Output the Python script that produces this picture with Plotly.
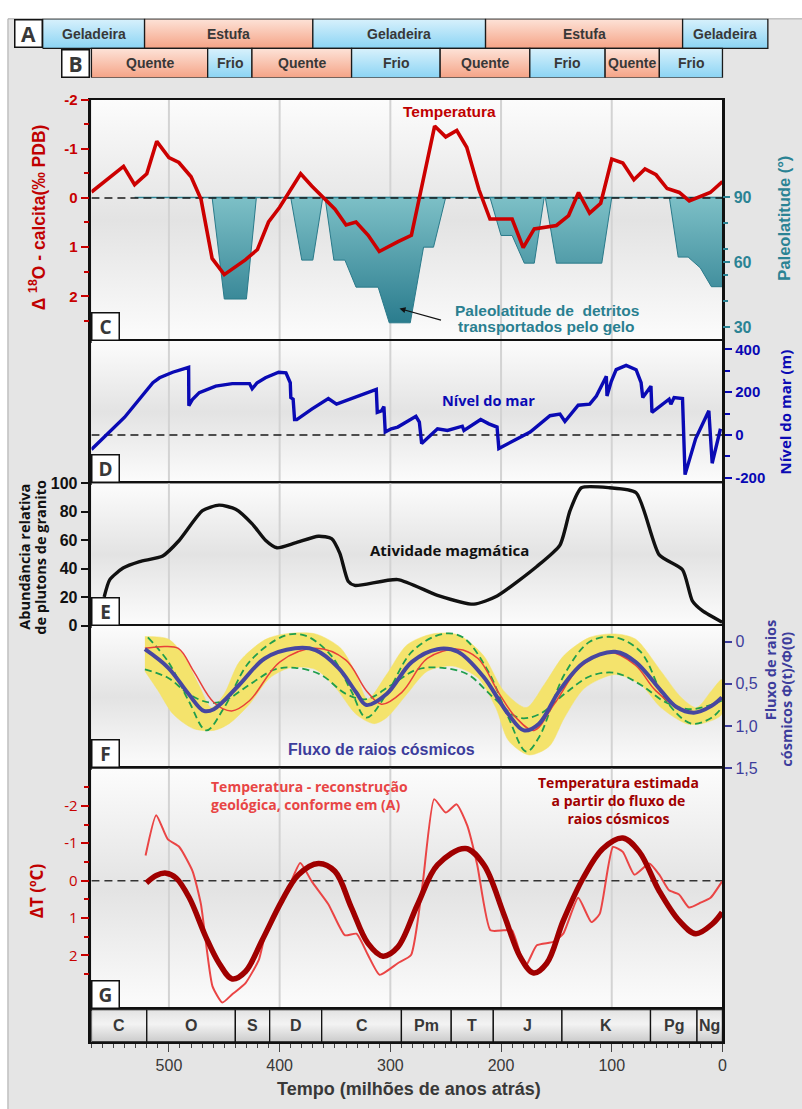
import plotly.graph_objects as go

# ---------------------------------------------------------------- data
# climate-mode bars (million years ago)
era_a_edges = [614, 522, 370, 214, 36, -41]
era_a_names = ["Geladeira", "Estufa", "Geladeira", "Estufa", "Geladeira"]
era_b_edges = [570, 465, 425, 335, 255, 174, 106, 57, 0]
era_b_names = ["Quente", "Frio", "Quente", "Frio", "Quente", "Frio", "Quente", "Frio"]

# geological periods
period_edges = [570, 520, 440, 409, 362, 290, 245, 207, 145, 65, 23, 0]
period_names = ["C", "O", "S", "D", "C", "Pm", "T", "J", "K", "Pg", "Ng"]

# C: delta 18O of calcite (temperature proxy)
d18o_age = [570, 541, 531, 520, 511, 500, 491, 480, 471, 461, 450, 431, 420, 410, 400,
            381, 371, 361, 350, 340, 331, 320, 310, 293, 281, 260, 250, 240, 231, 220,
            210, 190, 180, 170, 150, 139, 130, 120, 110, 100, 90, 80, 70, 60, 50, 39,
            30, 11, 0]
d18o_val = [-0.12, -0.64, -0.27, -0.49, -1.15, -0.82, -0.72, -0.43, 0.03, 1.23, 1.56,
            1.26, 1.05, 0.49, 0.19, -0.49, -0.24, -0.02, 0.23, 0.55, 0.49, 0.76, 1.09,
            0.89, 0.76, -1.46, -1.24, -1.37, -1.03, -0.17, 0.43, 0.43, 1.01, 0.63, 0.56,
            0.36, -0.11, 0.31, 0.11, -0.79, -0.71, -0.37, -0.59, -0.47, -0.19, -0.11,
            0.06, -0.11, -0.33]

# C: paleolatitude reached by ice-rafted debris (episodes separated by None)
ird_age = [461, 450, 430, 421, None,
           390, 380, 370, 361, None,
           359, 351, 341, 331, 311, 301, 282, 270, 261, 250, None,
           210, 200, 190, 179, 170, 161, None,
           160, 150, 109, 100, None,
           48, 40, 31, 20, 10, 0, 0]
ird_lat = [90, 43, 43, 90, None,
           90, 61, 61, 90, None,
           90, 61, 61, 48.5, 48.5, 32, 32, 67, 67, 90, None,
           90, 72.4, 72.4, 59.6, 59.6, 90, None,
           90, 59.6, 59.6, 90, None,
           90, 62.4, 62.4, 57.4, 48.7, 48.7, 90]
ird_start_age = 531

# D: sea level (m)
sea_age = [570, 550.4, 540, 514.5, 508.5, 496.6, 482.2, 482.0, 478.6, 472.6, 457.7,
           442.8, 427.2, 424.8, 420.3, 412.8, 400.9, 394.3, 390.4, 389.9, 387.8, 386.5,
           384.5, 371, 356, 348.6, 329, 312.7, 311.8, 308, 305.8, 304.6, 299.2, 293.3,
           276.9, 273.8, 271.7, 257.4, 248.4, 235, 233.5, 218.4, 211, 203.6, 202, 173.7,
           155.8, 146.8, 142.3, 130.3, 119.9, 113.9, 104.9, 104.3, 100.4, 96, 87, 78,
           73.5, 72, 64.6, 63.7, 48.2, 46.6, 43.7, 36.1, 33.8, 24.2, 12.3, 9.3, 1.8]
sea_level = [-68, 29, 83, 244, 267, 293, 316, 137, 167, 198, 228, 240, 240, 216, 244,
             267, 293, 290, 244, 175, 167, 72, 72, 121, 170, 144, 182, 213, 106, 113,
             133, 14, 29, 37, 87, 60, -40, 29, 21, 41, 21, 72, 52, 37, -63, 14, 90, 98,
             63, 139, 144, 182, 274, 182, 251, 305, 325, 305, 244, 175, 228, 106, 167,
             144, 175, 170, -185, -17, 113, -132, 29]

# E: relative abundance of granite plutons
magma_age = [558.5, 553.4, 541.4, 526.5, 505.6, 490.6, 469.7, 454.7, 439.7, 424.8,
             412.8, 402.4, 385.9, 365, 353.1, 345.6, 338.1, 332.1, 293.3, 257.4, 224.5,
             203.6, 167.7, 146.8, 137.7, 127.4, 102, 78, 57.1, 36.1, 27.2, 18.2, 0.3]
magma_abund = [20.2, 32.4, 40.5, 45, 49, 60, 80.7, 84.6, 81.8, 71.5, 60, 54.7, 58.1,
               62.8, 61.2, 50.8, 31.3, 28.3, 32.4, 21.4, 15.2, 20.9, 41.6, 56.6, 80.7,
               96.8, 96.8, 93.3, 49.7, 39.3, 17.5, 10.6, 2.5]

# F: cosmic ray flux Phi(t)/Phi(0)
flux_age = [521.7, 500.6, 482.2, 468.5, 459.4, 436.4, 413.5, 386, 367.6, 346.9, 330.9,
            321.7, 303.4, 280.5, 257.5, 239.1, 216.2, 193.3, 179.4, 165.7, 147.3, 124.4,
            97, 78.6, 55.6, 41.9, 25.8, 9.8, 0.6]
flux_val = [0.09, 0.31, 0.62, 0.82, 0.80, 0.51, 0.20, 0.08, 0.10, 0.31, 0.60, 0.75, 0.62,
            0.24, 0.09, 0.12, 0.41, 0.86, 1.05, 0.97, 0.58, 0.24, 0.12, 0.24, 0.58, 0.77,
            0.84, 0.76, 0.66]
flux_alt_age = [521.7, 507.6, 491.5, 477.7, 459.4, 443.3, 427.3, 399.7, 367.6, 340.1,
                321.7, 308, 289.6, 266.6, 239.1, 220.8, 202.4, 186.4, 170.3, 152, 129.1,
                101.5, 78.6, 60.3, 37.3, 18.9, 0.6]
flux_alt_val = [0.08, 0.06, 0.08, 0.35, 0.72, 0.82, 0.70, 0.24, 0.08, 0.22, 0.58, 0.74,
                0.60, 0.20, 0.09, 0.20, 0.60, 0.90, 1.05, 0.74, 0.31, 0.13, 0.28, 0.58,
                0.80, 0.82, 0.66]
flux_wide_age = [519, 500.6, 482.2, 466.2, 450.1, 427.3, 395.2, 376.8, 353.8, 335.5,
                 321.7, 303.4, 280.5, 252.9, 234.5, 211.7, 193.3, 177.2, 165.7, 142.8,
                 119.6, 97, 74, 51, 28.1, 9.8, 0.6]
flux_wide_val = [-0.05, 0.24, 0.70, 1.05, 0.78, 0.24, -0.07, -0.07, 0.16, 0.58, 0.90,
                 0.62, 0.12, -0.09, -0.05, 0.35, 0.90, 1.30, 1.13, 0.39, 0.00, -0.05,
                 0.12, 0.70, 0.97, 0.90, 0.78]
flux_narrow_age = [521.7, 500.6, 482.2, 464, 450, 427.3, 404.3, 386, 363, 340, 321.7,
                   298.7, 275.8, 252.9, 229.9, 207, 184.1, 165.7, 142.8, 119.6, 97, 74,
                   51, 28.1, 0.6]
flux_narrow_val = [0.33, 0.43, 0.62, 0.72, 0.70, 0.51, 0.33, 0.31, 0.39, 0.62, 0.68,
                   0.51, 0.33, 0.31, 0.39, 0.66, 0.90, 0.86, 0.62, 0.41, 0.37, 0.51,
                   0.72, 0.80, 0.70]
band_top_age = [521.7, 500.6, 486.9, 473.1, 461.6, 450.1, 436.4, 413.5, 395.2, 367.6,
                344.7, 330.9, 320.5, 303.4, 285, 262.1, 239.1, 216.2, 197.8, 177.2,
                161.1, 142.8, 119.8, 97, 78.6, 55.6, 37.3, 23.5, 9.8, 0.6]
band_top_val = [-0.06, -0.03, 0.16, 0.51, 0.78, 0.62, 0.24, -0.02, -0.09, -0.09, 0.08,
                0.39, 0.68, 0.39, 0.04, -0.09, -0.08, 0.16, 0.58, 0.78, 0.51, 0.16,
                -0.05, -0.09, -0.03, 0.35, 0.66, 0.78, 0.58, 0.45]
band_bot_age = [521.7, 509.8, 496, 477.7, 459.4, 445.6, 427.3, 408.9, 390.5, 367.6,
                349.2, 330.9, 314.8, 303.4, 285, 266.6, 243.8, 220.8, 204.8, 193.3,
                174.9, 156.6, 142.8, 124.5, 97, 74, 55.6, 32.7, 18.9, 0.6]
band_bot_val = [0.35, 0.58, 0.86, 1.03, 1.05, 0.97, 0.74, 0.43, 0.31, 0.33, 0.55, 0.86,
                0.97, 0.90, 0.62, 0.35, 0.29, 0.43, 0.78, 1.17, 1.34, 1.24, 0.90, 0.55,
                0.39, 0.51, 0.78, 0.97, 0.97, 0.86]

# G: temperature anomaly (deg C)
dt_cosmic_age = [520.4, 511.5, 502.5, 493.5, 481.6, 466.6, 454.7, 442.8, 430.8, 415.9,
                 398, 383, 365, 350.1, 335.2, 320.2, 306.7, 293.3, 275.3, 257.4, 232,
                 215.5, 197.6, 182.7, 170.7, 158.7, 143.8, 125.8, 107.9, 90, 75.1, 57.1,
                 39.2, 24.2, 9.2, 0.3]
dt_cosmic = [0.06, -0.14, -0.20, -0.07, 0.46, 1.51, 2.21, 2.63, 2.43, 1.60, 0.54, -0.16,
             -0.46, -0.25, 0.72, 1.68, 2.02, 1.78, 0.63, -0.42, -0.86, -0.42, 0.89, 2.04,
             2.47, 2.21, 1.07, -0.07, -0.86, -1.14, -0.77, 0.28, 1.07, 1.42, 1.16, 0.85]
dt_geo_age = [521.1, 511.5, 501.1, 490.6, 478.6, 471.1, 460.7, 451.7, 442.8, 430.8,
              418.8, 412.8, 400.9, 391.9, 381.4, 371, 356, 341.1, 330.6, 320.2, 309.7,
              293.3, 281.3, 270.9, 260.4, 250, 240.1, 230.5, 221.5, 209.6, 197.6, 190.1,
              178.2, 167.7, 152.7, 143.8, 130.3, 118.4, 110.9, 98.9, 90, 79.5, 66.1,
              57.1, 48.2, 39.2, 30.2, 19.7, 10.8, 0.3]
dt_geo = [-0.67, -1.75, -1.11, -0.90, -0.25, 0.63, 2.82, 3.26, 3.04, 2.74, 2.12, 1.42,
          0.72, 0.19, -0.47, 0.02, 0.63, 1.46, 1.42, 1.99, 2.52, 2.21, 1.99, 0.11, -2.18,
          -1.82, -2.04, -1.47, -0.42, 1.33, 1.33, 1.33, 2.30, 1.73, 1.64, 1.42, 0.46,
          1.11, 0.89, -0.90, -0.77, -0.16, -0.46, -0.16, 0.26, 0.37, 0.72, 0.59, 0.46,
          0.02]

age_ticks = [500, 400, 300, 200, 100, 0]
grid_ages = [500, 400, 300, 200, 100]

# ---------------------------------------------------------------- layout helpers
W, H = 802, 1109
PX_L, PX_R = 92, 727
T_OLD, T_NOW = 570, 0


def px(x):
    return x / W


def py(y):
    return 1 - y / H


def age_at(xpix):
    return T_OLD - (xpix - PX_L) * (T_OLD - T_NOW) / (PX_R - PX_L)


ARIAL = "Liberation Sans, Arial, sans-serif"
NARROW = "Liberation Sans Narrow, Arial Narrow, Liberation Sans, sans-serif"
HUMAN = "Open Sans, Noto Sans, sans-serif"
RED = "#c80000"
TEAL = "#2b8394"
BLUE = "#0808b4"
SLATE = "#3d3d9c"
DARK = "#383838"

PANELS = {
    "C": dict(top=92, bottom=337, xa="x", ya="y", yr=[2.9, -2.0]),
    "D": dict(top=337, bottom=482, xa="x2", ya="y3", yr=[-225, 441]),
    "E": dict(top=482, bottom=627, xa="x3", ya="y4", yr=[0, 100]),
    "F": dict(top=627, bottom=772, xa="x4", ya="y5", yr=[1.5, -0.186]),
    "G": dict(top=772, bottom=1017, xa="x5", ya="y6", yr=[3.447, -3.0]),
}

fig = go.Figure()


def add(**kw):
    kw.setdefault("hoverinfo", "skip")
    kw.setdefault("showlegend", False)
    fig.add_trace(go.Scatter(**kw))


def gradient_rect(xa, ya, a0, a1, y0, y1, scale, line_color=None, line_width=0):
    add(x=[a0, a1, a1, a0, a0], y=[y0, y0, y1, y1, y0], xaxis=xa, yaxis=ya,
        mode="lines", fill="toself",
        fillgradient=dict(type="vertical", colorscale=scale),
        line=dict(color=line_color or "rgba(0,0,0,0)", width=line_width))


# panel backgrounds and vertical grid
bg_scale = [[0, "#fcfcfc"], [0.5, "#e3e3e3"], [1, "#fcfcfc"]]
for p in PANELS.values():
    lo, hi = min(p["yr"]), max(p["yr"])
    gradient_rect(p["xa"], p["ya"], T_OLD, T_NOW, lo, hi, bg_scale)
    gx, gy = [], []
    for g in grid_ages:
        gx += [g, g, None]
        gy += [lo, hi, None]
    add(x=gx, y=gy, xaxis=p["xa"], yaxis=p["ya"], mode="lines",
        line=dict(color="#d3d3d3", width=2))

# ---- panel C (debris fill on the latitude axis, curves on a top overlay)
teal_scale = [[0, "#287a8c"], [1, "#7cbfc6"]]
poly_a, poly_l = [], []
for a, l in zip(ird_age + [None], ird_lat + [None]):
    if a is None:
        if poly_a:
            add(x=poly_a + [poly_a[0]], y=poly_l + [poly_l[0]], xaxis="x", yaxis="y2",
                mode="lines", fill="toself",
                fillgradient=dict(type="vertical", colorscale=teal_scale, start=32, stop=90),
                line=dict(color="#2a7a8a", width=1))
        poly_a, poly_l = [], []
    else:
        poly_a.append(a)
        poly_l.append(l)
add(x=[ird_start_age, T_NOW], y=[90, 90], xaxis="x", yaxis="y2", mode="lines",
    line=dict(color=TEAL, width=1.6))
add(x=[T_OLD, T_NOW], y=[0, 0], xaxis="x", yaxis="y9", mode="lines",
    line=dict(color="#1a1a1a", width=1.5, dash="8px,5px"))
add(x=d18o_age, y=d18o_val, xaxis="x", yaxis="y9", mode="lines",
    line=dict(color="#cc0000", width=3.6))

# ---- panel D
add(x=[T_OLD, T_NOW], y=[0, 0], xaxis="x2", yaxis="y3", mode="lines",
    line=dict(color="#1a1a1a", width=1.5, dash="8px,5px"))
add(x=sea_age, y=sea_level, xaxis="x2", yaxis="y3", mode="lines",
    line=dict(color="#0a0ab4", width=3.4))

# ---- panel E
add(x=magma_age, y=magma_abund, xaxis="x3", yaxis="y4", mode="lines",
    line=dict(color="#111111", width=3.4, shape="spline", smoothing=0.6))

# ---- panel F
add(x=band_top_age + band_bot_age[::-1], y=band_top_val + band_bot_val[::-1],
    xaxis="x4", yaxis="y5", mode="lines", fill="toself", fillcolor="#f4e36c",
    line=dict(color="#f4e36c", width=0.5, shape="spline", smoothing=0.8))
add(x=flux_narrow_age, y=flux_narrow_val, xaxis="x4", yaxis="y5", mode="lines",
    line=dict(color="#1f9e4d", width=1.8, dash="7px,4px", shape="spline", smoothing=1))
add(x=flux_wide_age, y=flux_wide_val, xaxis="x4", yaxis="y5", mode="lines",
    line=dict(color="#1f9e4d", width=1.8, dash="7px,4px", shape="spline", smoothing=1))
add(x=flux_alt_age, y=flux_alt_val, xaxis="x4", yaxis="y5", mode="lines",
    line=dict(color="#e8403a", width=1.5, shape="spline", smoothing=1))
add(x=flux_age, y=flux_val, xaxis="x4", yaxis="y5", mode="lines",
    line=dict(color="#4747a0", width=4, shape="spline", smoothing=1))

# ---- panel G
add(x=[T_OLD, T_NOW], y=[0, 0], xaxis="x5", yaxis="y6", mode="lines",
    line=dict(color="#333333", width=1.5, dash="8px,5px"))
add(x=dt_geo_age, y=dt_geo, xaxis="x5", yaxis="y6", mode="lines",
    line=dict(color="#ea4545", width=2, shape="spline", smoothing=0.5))
add(x=dt_cosmic_age, y=dt_cosmic, xaxis="x5", yaxis="y6", mode="lines",
    line=dict(color="#a00000", width=5.5, shape="spline", smoothing=1))

# ---- period bar
period_scale = [[0, "#cbcbcb"], [0.55, "#f3f3f3"], [1, "#e2e2e2"]]
annotations = []
for a0, a1, name in zip(period_edges[:-1], period_edges[1:], period_names):
    gradient_rect("x6", "y7", a0, a1, 0, 1, period_scale, "#111111", 1.3)
    annotations.append(dict(x=(a0 + a1) / 2, y=0.5, xref="x6", yref="y7", showarrow=False,
                            text=f"<b>{name}</b>",
                            font=dict(family=NARROW, size=16, color=DARK)))

# ---- climate-mode bars A / B
cold_scale = [[0, "#8bd4f4"], [1, "#d8f1fc"]]
warm_scale = [[0, "#f5a386"], [1, "#fde3d8"]]
for edges, names, row in ((era_a_edges, era_a_names, 1), (era_b_edges, era_b_names, 0)):
    for a0, a1, name in zip(edges[:-1], edges[1:], names):
        cold = name in ("Geladeira", "Frio")
        gradient_rect("x7", "y8", a0, a1, row, row + 1, cold_scale if cold else warm_scale,
                      "#1a1a1a", 1.3)
        annotations.append(dict(x=(a0 + a1) / 2, y=row + 0.5, xref="x7", yref="y8",
                                showarrow=False, text=f"<b>{name}</b>",
                                font=dict(family=NARROW, size=14, color=DARK)))

# letter boxes
for letter, x0, y1 in (("A", 14, 40), ("B", 61, 70)):
    annotations.append(dict(x=px(x0), y=py(y1), xref="paper", yref="paper",
                            xanchor="left", yanchor="bottom", showarrow=False,
                            text=f"<b>{letter}</b>", width=26, height=26, borderpad=0,
                            bgcolor="white", bordercolor="#111111", borderwidth=1.5,
                            font=dict(family=HUMAN, size=21, color=DARK)))
for letter, p in PANELS.items():
    annotations.append(dict(x=px(PX_L), y=py(p["bottom"]), xref="paper", yref="paper",
                            xanchor="left", yanchor="bottom", showarrow=False,
                            text=f"<b>{letter}</b>", width=26, height=26, borderpad=0,
                            bgcolor="white", bordercolor="#111111", borderwidth=1.5,
                            font=dict(family=HUMAN, size=19, color=DARK)))


def label(text, x, y, size, color, family, angle=0, xanchor="center", align="center"):
    annotations.append(dict(x=px(x), y=py(y), xref="paper", yref="paper",
                            xanchor=xanchor, yanchor="middle", showarrow=False,
                            textangle=angle, text=f"<b>{text}</b>", align=align,
                            font=dict(family=family, size=size, color=color)))


# in-panel labels
label("Temperatura", 452, 104, 15.5, "#c00000", ARIAL)
label("Paleolatitude de&nbsp; detritos", 550, 306, 15.5, "#2a7f90", ARIAL)
label("transportados pelo gelo", 550, 323, 15.5, "#2a7f90", ARIAL)
label("Nível do mar", 492, 398, 14.5, "#0a0ab4", HUMAN)
label("Atividade magmática", 452, 550, 15, "#111111", HUMAN)
label("Fluxo de raios cósmicos", 384, 753, 16, SLATE, NARROW)
label("Temperatura - reconstrução<br>geológica, conforme em (A)", 210, 799, 14,
      "#e84545", HUMAN, xanchor="left", align="left")
label("Temperatura estimada<br>a partir do fluxo de<br>raios cósmicos", 622, 805, 14,
      "#a00000", HUMAN)

# axis titles
label("Δ <sup>18</sup>O - calcita(‰ PDB)", 37, 212, 17.5, "#c00000", ARIAL, -90)
label("Paleolatitude (°)", 788, 213, 16.5, TEAL, ARIAL, -90)
label("Nível do mar (m)", 790, 410, 15, "#0a0ab4", HUMAN, -90)
label("Abundância relativa", 25, 557, 14.5, "#111111", HUMAN, -90)
label("de plutons de granito", 41, 557, 14.5, "#111111", HUMAN, -90)
label("Fluxo de raios", 775, 672, 14.5, SLATE, HUMAN, -90)
label("cósmicos Φ(t)/Φ(0)", 792, 702, 14.5, SLATE, HUMAN, -90)
label("ΔT (ºC)", 37, 896, 17, "#c00000", HUMAN, -90)
label("Tempo (milhões de anos atrás)", 412, 1098, 18, DARK, NARROW)

# arrow to the southernmost debris
annotations.append(dict(x=age_at(402), y=38.6, xref="x", yref="y2", ax=43, ay=12,
                        showarrow=True, arrowhead=2, arrowsize=1, arrowwidth=1.2,
                        arrowcolor="#111111", text=""))

# ---------------------------------------------------------------- axes
def xaxis(anchor, **kw):
    d = dict(domain=[px(PX_L), px(PX_R)], range=[T_OLD, T_NOW], anchor=anchor,
             showgrid=False, zeroline=False, showline=True, linecolor="#111111",
             linewidth=2, mirror=True, ticks="", showticklabels=False, fixedrange=True)
    d.update(kw)
    return d


def yaxis(top, bottom, rng, anchor, side, color, vals, text, font, minor=None, **kw):
    d = dict(domain=[py(bottom), py(top)], range=rng, anchor=anchor, side=side,
             showgrid=False, zeroline=False, showline=True, linecolor="#111111",
             linewidth=2.5, mirror=True, ticks="outside", ticklen=8, tickwidth=1.5,
             tickcolor=color, tickmode="array", tickvals=vals, ticktext=text,
             tickfont=font, fixedrange=True)
    if minor is not None:
        d["minor"] = dict(tickmode="array", tickvals=minor, ticks="outside", ticklen=5,
                          tickwidth=1.5, tickcolor=color)
    d.update(kw)
    return d


c_vals = [-2, -1, 0, 1, 2]
layout_axes = dict(
    xaxis=xaxis("y"),
    xaxis2=xaxis("y3"),
    xaxis3=xaxis("y4"),
    xaxis4=xaxis("y5"),
    xaxis5=xaxis("y6"),
    xaxis6=xaxis("y7", ticks="outside", ticklen=8, tickwidth=1.3, tickcolor="#444444",
                 showticklabels=True, tickmode="array", tickvals=age_ticks,
                 ticktext=[str(v) for v in age_ticks],
                 tickfont=dict(family=NARROW, size=16, color=DARK),
                 minor=dict(ticks="outside", ticklen=4, tickwidth=1, tickcolor="#444444",
                            tickmode="linear", tick0=0, dtick=10)),
    xaxis7=dict(domain=[0, 1], range=[age_at(0), age_at(W)], anchor="y8", visible=False,
                fixedrange=True),
    yaxis=yaxis(92, 337, [2.9, -2.0], "x", "left", RED, c_vals, [str(v) for v in c_vals],
                dict(family=ARIAL, size=15, color=RED, weight="bold"),
                minor=[-1.5, -0.5, 0.5, 1.5, 2.5]),
    yaxis2=dict(overlaying="y", anchor="x", side="right", range=[23.8, 135.3],
                showgrid=False, zeroline=False, showline=False, ticks="outside",
                ticklen=7, tickwidth=1.5, tickcolor=TEAL, tickmode="array",
                tickvals=[90, 60, 30], tickfont=dict(family=ARIAL, size=16, color=TEAL,
                                                      weight="bold"),
                minor=dict(tickmode="array", tickvals=[78, 66, 54, 42], ticks="outside",
                           ticklen=5, tickwidth=1.5, tickcolor=TEAL),
                fixedrange=True),
    yaxis9=dict(overlaying="y", anchor="x", side="left", range=[2.9, -2.0],
                visible=False, showgrid=False, zeroline=False, fixedrange=True),
    yaxis3=yaxis(337, 482, [-225, 441], "x2", "right", BLUE, [-200, 0, 200, 400],
                 ["-200", "0", "200", "400"],
                 dict(family=NARROW, size=15, color=BLUE, weight="bold"),
                 minor=[-100, 100, 300], ticklen=7),
    yaxis4=yaxis(482, 627, [0, 100], "x3", "left", "#111111", [0, 20, 40, 60, 80, 100],
                 ["0", "20", "40", "60", "80", "100"],
                 dict(family=NARROW, size=16, color="#111111", weight="bold")),
    yaxis5=yaxis(627, 772, [1.5, -0.186], "x4", "right", SLATE, [0, 0.5, 1.0, 1.5],
                 ["0", "0,5", "1,0", "1,5"],
                 dict(family=NARROW, size=16, color=SLATE), ticklen=7),
    yaxis6=yaxis(772, 1017, [3.447, -3.0], "x5", "left", RED, c_vals,
                 [str(v) for v in c_vals], dict(family=HUMAN, size=15, color=RED),
                 minor=[-2.5, -1.5, -0.5, 0.5, 1.5, 2.5]),
    yaxis7=dict(domain=[py(1050), py(1017)], range=[0, 1], anchor="x6", showgrid=False,
                zeroline=False, showline=True, linecolor="#111111", linewidth=2.5,
                mirror=True, ticks="", showticklabels=False, fixedrange=True),
    yaxis8=dict(domain=[py(70), py(10)], range=[0, 2], anchor="x7", visible=False,
                fixedrange=True),
)

fig.update_layout(
    width=W, height=H, autosize=False,
    margin=dict(l=0, r=0, t=0, b=0),
    paper_bgcolor="white", plot_bgcolor="rgba(0,0,0,0)",
    showlegend=False,
    annotations=annotations,
    shapes=[dict(type="rect", xref="paper", yref="paper", x0=px(8), x1=1.01,
                 y0=-0.01, y1=py(10), fillcolor="#e5e5e5",
                 line=dict(color="#a8a8a8", width=1), layer="below")],
    **layout_axes,
)

fig.write_html("out.html", config=dict(displayModeBar=False, responsive=False))
